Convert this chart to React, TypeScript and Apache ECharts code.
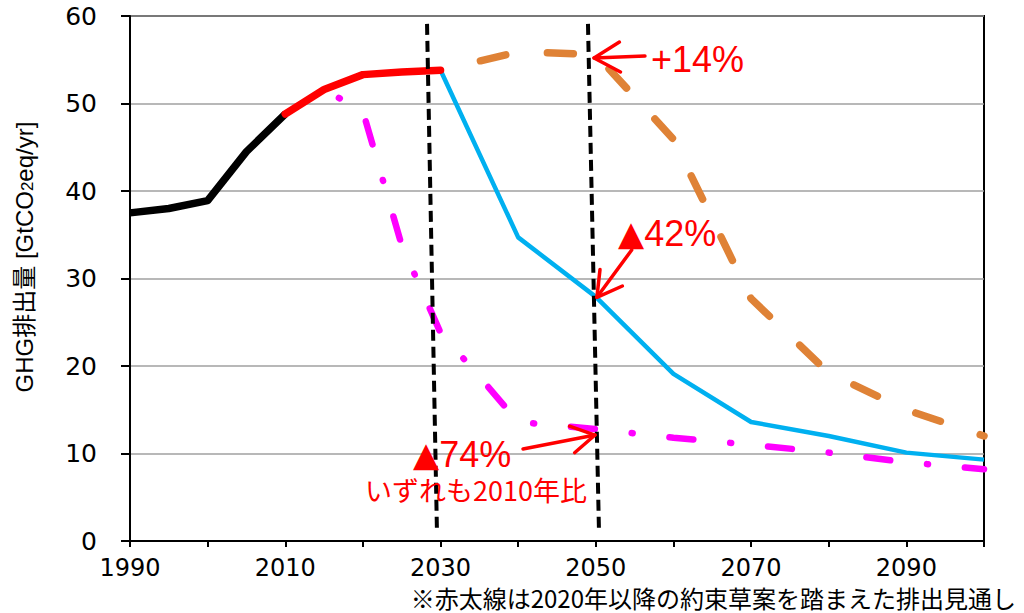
import React, { useEffect, useRef } from "react";
import * as echarts from "echarts";

// ---- data ----
const histYears = [1990, 1995, 2000, 2005, 2010];
const histValues = [37.5, 38.0, 38.9, 44.5, 48.8];

const pledgeYears = [2010, 2015, 2020, 2025, 2030];
const pledgeValues = [48.8, 51.6, 53.3, 53.6, 53.8];

const blueYears = [2030, 2040, 2050, 2060, 2070, 2080, 2090, 2100];
const blueValues = [53.8, 34.7, 27.9, 19.1, 13.6, 12.0, 10.1, 9.3];

const orangeYears = [2030, 2040, 2050, 2060, 2070, 2080, 2090, 2100];
const orangeValues = [53.8, 55.9, 55.6, 45.9, 27.7, 19.2, 15.0, 12.0];

const magentaYears = [2015, 2020, 2025, 2030, 2035, 2040, 2050, 2060, 2070, 2080, 2090, 2100];
const magentaValues = [51.6, 49.1, 33.8, 23.8, 18.8, 13.6, 12.8, 11.8, 11.0, 10.1, 9.0, 8.2];

const xLabelYears = [1990, 2010, 2030, 2050, 2070, 2090];

// annotation geometry in data coordinates
const vLine2030 = [[2028.26, 59.1], [2029.54, 1.0]];
const vLine2050 = [[2048.99, 59.1], [2050.41, 1.0]];
const arrowPlus14 = { tail: [2056.33, 55.43], tip: [2049.77, 55.2], b1: [2053.04, 57.02], b2: [2053.18, 53.6] };
const arrow42 = { tail: [2054.62, 33.26], tip: [2050.14, 27.85], b1: [2050.54, 31.03], b2: [2053.42, 29.14] };
const arrow74 = { tail: [2040.62, 10.51], tip: [2049.9, 12.11], b1: [2047.27, 10.09], b2: [2046.61, 13.12] };

const zip = (xs: number[], ys: number[]) => xs.map((x, i) => [x, ys[i]]);

function arrowSeries(a: any) {
  const base = {
    type: "line",
    symbol: "none",
    silent: true,
    z: 10,
    lineStyle: { color: "#FF0000", width: 3.5, cap: "round", join: "round" },
  };
  return [
    { ...base, data: [a.tail, a.tip] },
    { ...base, data: [a.b1, a.tip, a.b2] },
  ];
}

export default function App() {
  const ref = useRef<HTMLDivElement>(null);
  useEffect(() => {
    if (!ref.current) return;
    const chart = echarts.init(ref.current, undefined, { renderer: "svg" });
    const option: any = {
      animation: false,
      backgroundColor: "#ffffff",
      grid: {
        left: 130,
        right: 40,
        top: 16,
        bottom: 72,
        show: true,
        borderColor: "#000",
        borderWidth: 2,
      },
      xAxis: {
        type: "value",
        min: 1990,
        max: 2100,
        interval: 10,
        axisLine: { show: true, lineStyle: { color: "#000", width: 2 } },
        axisTick: { show: true, length: 6, lineStyle: { color: "#000", width: 2 } },
        splitLine: { show: false },
        axisLabel: {
          color: "#000",
          fontFamily: "DejaVu Sans",
          fontSize: 24,
          lineHeight: 24,
          margin: 15,
          formatter: (v: number) => (xLabelYears.includes(v) ? String(v) : ""),
        },
      },
      yAxis: {
        type: "value",
        min: 0,
        max: 60,
        interval: 10,
        axisLine: { show: true, lineStyle: { color: "#000", width: 2 } },
        axisTick: { show: true, length: 9, lineStyle: { color: "#000", width: 2 } },
        splitLine: { show: true, lineStyle: { color: "#A0A0A0", width: 1.5 } },
        axisLabel: {
          color: "#000",
          fontFamily: "DejaVu Sans",
          fontSize: 25,
          margin: 33,
        },
      },
      series: [
        {
          type: "line",
          symbol: "none",
          data: zip(magentaYears, magentaValues),
          z: 2,
          lineStyle: {
            color: "#FF00FF",
            width: 6.5,
            type: [24, 37, 1, 37],
            dashOffset: 44,
            cap: "round",
            join: "round",
          },
        },
        {
          type: "line",
          symbol: "none",
          data: zip(orangeYears, orangeValues),
          z: 3,
          lineStyle: {
            color: "#DF8236",
            width: 7.5,
            type: [26, 42],
            dashOffset: 27.4,
            cap: "round",
            join: "round",
          },
        },
        {
          type: "line",
          symbol: "none",
          data: zip(blueYears, blueValues),
          z: 4,
          lineStyle: { color: "#00B0F0", width: 4.5, join: "round" },
        },
        {
          type: "line",
          symbol: "none",
          data: zip(histYears, histValues),
          z: 5,
          lineStyle: { color: "#000000", width: 7.5, join: "round" },
        },
        {
          type: "line",
          symbol: "none",
          data: zip(pledgeYears, pledgeValues),
          z: 6,
          lineStyle: { color: "#FF0000", width: 7.5, cap: "round", join: "round" },
        },
        {
          type: "line",
          symbol: "none",
          data: vLine2030,
          z: 8,
          lineStyle: { color: "#000", width: 4, type: [11, 6] },
        },
        {
          type: "line",
          symbol: "none",
          data: vLine2050,
          z: 8,
          lineStyle: { color: "#000", width: 4, type: [11, 6] },
        },
        ...arrowSeries(arrowPlus14),
        ...arrowSeries(arrow42),
        ...arrowSeries(arrow74),
      ],
    };
    chart.setOption(option);

    const px = (p: number[]) => chart.convertToPixel({ gridIndex: 0 }, p) as number[];
    const pPlus = px([2057.1, 55.0]);
    const p42 = px([2052.86, 35.2]);
    const p74 = px([2026.45, 9.94]);
    const pNote = px([2020.27, 5.83]);

    const annoRich = {
      t: { fontFamily: "DejaVu Sans", fontSize: 34, fill: "#FF0000" },
      p: { fontFamily: "Liberation Sans", fontSize: 36, fill: "#FF0000" },
    };

    chart.setOption({
      graphic: [
        {
          type: "text",
          x: 24,
          y: 257,
          rotation: Math.PI / 2,
          z: 20,
          style: {
            text: "{a|GHG排出量 [GtCO}{b|2}{a|eq/yr]}",
            align: "center",
            verticalAlign: "middle",
            rich: {
              a: { fontFamily: "Liberation Sans, Noto Sans CJK JP", fontSize: 24, fill: "#000" },
              b: { fontFamily: "Liberation Sans", fontSize: 17, fill: "#000", verticalAlign: "bottom", padding: [6, 0, 0, 0] },
            },
          },
        },
        {
          type: "text",
          x: pPlus[0],
          y: pPlus[1],
          z: 20,
          style: {
            text: "{p|+14%}",
            align: "left",
            verticalAlign: "middle",
            rich: annoRich,
          },
        },
        {
          type: "text",
          x: p42[0],
          y: p42[1],
          z: 20,
          style: {
            text: "{t|▲}{p|42%}",
            align: "left",
            verticalAlign: "middle",
            rich: annoRich,
          },
        },
        {
          type: "text",
          x: p74[0],
          y: p74[1],
          z: 20,
          style: {
            text: "{t|▲}{p|74%}",
            align: "left",
            verticalAlign: "middle",
            rich: annoRich,
          },
        },
        {
          type: "text",
          x: pNote[0],
          y: pNote[1],
          z: 20,
          style: {
            text: "いずれも2010年比",
            fontFamily: "Noto Sans CJK JP",
            fontSize: 27,
            fill: "#FF0000",
            align: "left",
            verticalAlign: "middle",
          },
        },
        {
          type: "text",
          x: 1016,
          y: 597,
          z: 20,
          style: {
            text: "※赤太線は2020年以降の約束草案を踏まえた排出見通し",
            fontFamily: "Noto Sans CJK JP",
            fontSize: 24,
            lineHeight: 24,
            fill: "#000",
            align: "right",
            verticalAlign: "middle",
          },
        },
      ],
    });

    return () => chart.dispose();
  }, []);

  return (
    <div
      ref={ref}
      style={{ position: "absolute", left: 0, top: 0, width: 1024, height: 613 }}
    />
  );
}
